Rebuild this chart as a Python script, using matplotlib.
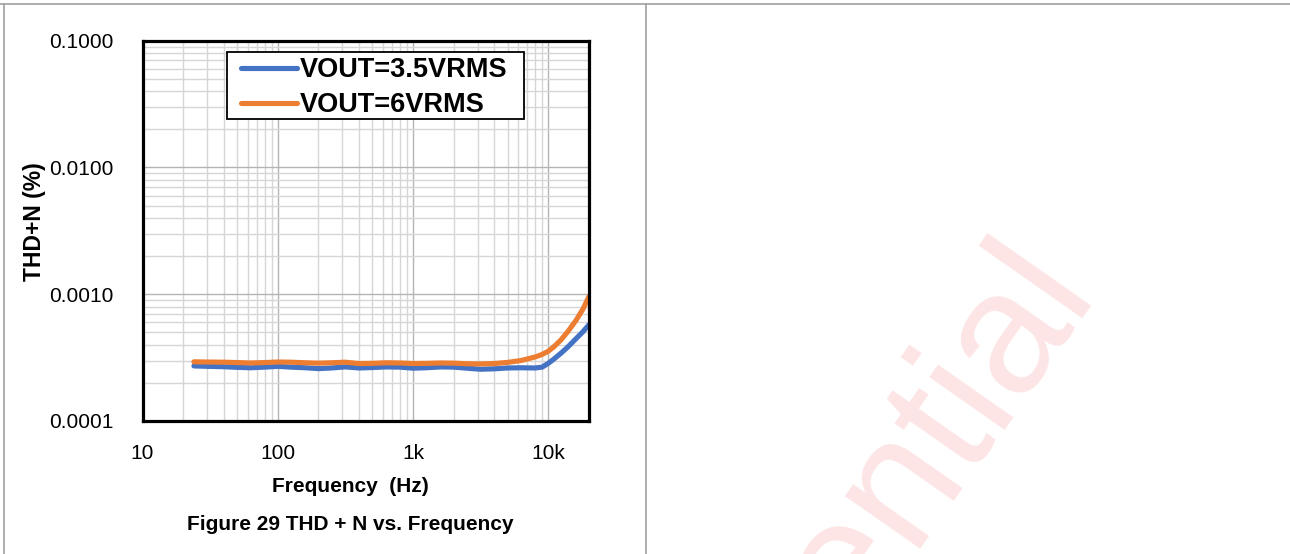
import matplotlib
matplotlib.use("Agg")
import matplotlib.pyplot as plt
from matplotlib.ticker import FixedLocator, FixedFormatter, LogLocator, NullFormatter
from matplotlib.lines import Line2D
from matplotlib.patches import Rectangle

# Measured THD+N (%) versus frequency (Hz)
freq_hz = [24, 30, 40, 50, 63, 80, 100, 125, 160, 200, 250, 315, 400, 500,
           630, 800, 1000, 1250, 1600, 2000, 2500, 3150, 4000, 5000, 6300,
           8000, 9000, 10000, 11000, 12500, 14000, 16000, 18000, 20000]
thd_3v5 = [0.000272, 0.000270, 0.000268, 0.000265, 0.000263, 0.000266, 0.000270,
           0.000266, 0.000263, 0.000259, 0.000262, 0.000267, 0.000262, 0.000264,
           0.000267, 0.000266, 0.000261, 0.000263, 0.000267, 0.000266, 0.000261,
           0.000256, 0.000258, 0.000262, 0.000263, 0.000262, 0.000266, 0.000285,
           0.000308, 0.000345, 0.000385, 0.000445, 0.000505, 0.000575]
thd_6v = [0.000293, 0.000292, 0.000291, 0.000289, 0.000287, 0.000289, 0.000292,
          0.000291, 0.000288, 0.000286, 0.000288, 0.000291, 0.000284, 0.000285,
          0.000288, 0.000287, 0.000284, 0.000285, 0.000287, 0.000286, 0.000283,
          0.000282, 0.000284, 0.000290, 0.000300, 0.000320, 0.000335, 0.000355,
          0.000385, 0.000440, 0.000510, 0.000620, 0.000760, 0.000960]

series_labels = ["VOUT=3.5VRMS", "VOUT=6VRMS"]
series_colors = ["#4472C4", "#ED7D31"]

x_ticks = [10, 100, 1000, 10000]
x_tick_labels = ["10", "100", "1k", "10k"]
y_ticks = [0.0001, 0.001, 0.01, 0.1]
y_tick_labels = ["0.0001", "0.0010", "0.0100", "0.1000"]

W, H = 1290, 554
plt.rcParams["font.family"] = ["Liberation Sans", "DejaVu Sans"]

fig = plt.figure(figsize=(W / 100, H / 100), dpi=100)
fig.patch.set_facecolor("white")


def fx(px):
    return px / W


def fy(py):
    return 1 - py / H


# "Confidential" watermark in the right cell
fig.text(fx(1095), fy(288), "Confidential", rotation=55, rotation_mode="anchor",
         ha="right", va="baseline", fontsize=126, color="#fde4e5", zorder=0)

# Table-cell borders
border = "#a0a0a0"
fig.add_artist(Line2D([0, 1], [fy(4), fy(4)], color=border, lw=1.2))
fig.add_artist(Line2D([fx(4), fx(4)], [0, fy(4)], color=border, lw=1.2))
fig.add_artist(Line2D([fx(646), fx(646)], [0, fy(4)], color=border, lw=1.2))

ax = fig.add_axes([fx(142.5), fy(421), fx(589) - fx(142.5), fy(40.7) - fy(421)])
for lab, vals, col in zip(series_labels, [thd_3v5, thd_6v], series_colors):
    ax.plot(freq_hz, vals, color=col, lw=3.7, solid_capstyle="round", label=lab, zorder=3)

ax.set_xscale("log")
ax.set_yscale("log")
ax.set_xlim(10, 20000)
ax.set_ylim(0.0001, 0.1)

ax.xaxis.set_major_locator(FixedLocator(x_ticks))
ax.xaxis.set_major_formatter(FixedFormatter(x_tick_labels))
ax.yaxis.set_major_locator(FixedLocator(y_ticks))
ax.yaxis.set_major_formatter(FixedFormatter(y_tick_labels))
ax.xaxis.set_minor_locator(LogLocator(base=10, subs=range(2, 10), numticks=20))
ax.yaxis.set_minor_locator(LogLocator(base=10, subs=range(2, 10), numticks=20))
ax.xaxis.set_minor_formatter(NullFormatter())
ax.yaxis.set_minor_formatter(NullFormatter())

ax.grid(which="major", color="#b4b4b4", lw=1.0, zorder=1)
ax.grid(which="minor", color="#d6d6d6", lw=1.0, zorder=1)
ax.set_axisbelow(True)

ax.tick_params(which="both", length=0)
ax.tick_params(axis="y", pad=21, labelsize=15)
ax.tick_params(axis="x", pad=16.5, labelsize=15)
for s in ax.spines.values():
    s.set_linewidth(2.3)
    s.set_color("black")
    s.set_zorder(5)

# Legend box with the legend entries on top of it
ax.add_patch(Rectangle((fx(226.7), fy(119.3)), fx(524) - fx(226.7), fy(51.7) - fy(119.3),
                       transform=fig.transFigure, facecolor="white", edgecolor="black",
                       lw=1.3, zorder=6, clip_on=False))
leg = ax.legend(loc="upper left", bbox_to_anchor=(fx(241), fy(57)),
                bbox_transform=fig.transFigure, frameon=False,
                prop={"weight": "bold", "size": 19.5}, handlelength=2.05,
                handletextpad=0.12, labelspacing=0.34, borderpad=0.0,
                borderaxespad=0.0)
leg.set_zorder(7)
for h in leg.get_lines():
    h.set_linewidth(3.7)
    h.set_solid_capstyle("round")

fig.text(fx(35), fy(222), "THD+N (%)", rotation=90, ha="center", va="center",
         fontsize=16.5, fontweight="bold")
fig.text(fx(350), fy(486), "Frequency  (Hz)", ha="center", va="center",
         fontsize=15, fontweight="bold")
fig.text(fx(350), fy(525), "Figure 29 THD + N vs. Frequency", ha="center", va="center",
         fontsize=15, fontweight="bold")

fig.savefig("out.png", dpi=100)
